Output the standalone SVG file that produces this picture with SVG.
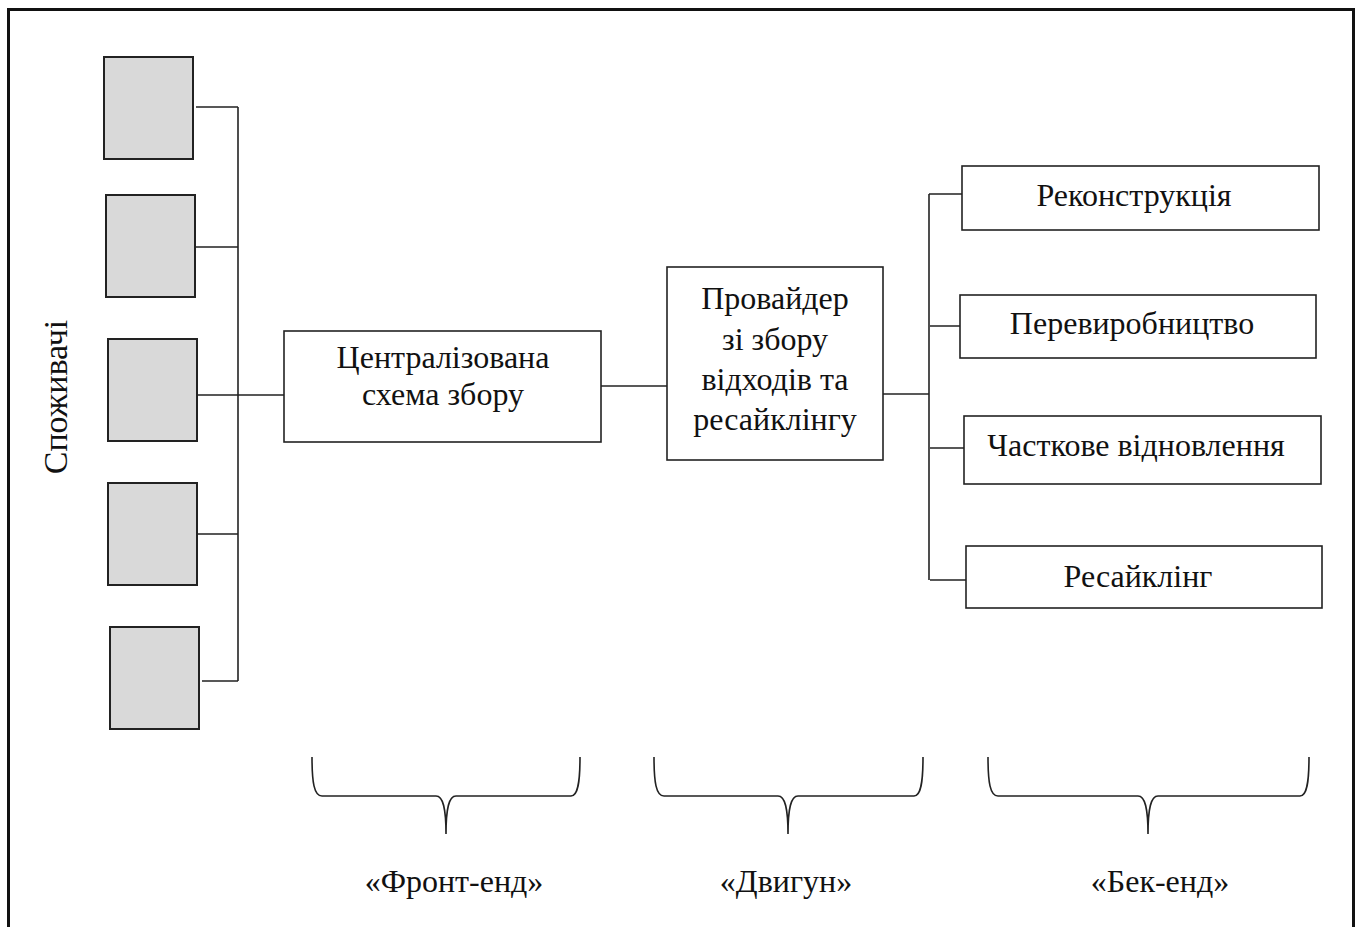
<svg xmlns="http://www.w3.org/2000/svg" width="1360" height="927" viewBox="0 0 1360 927">
<style>
.frame{fill:none;stroke:#111;stroke-width:3}
.cons{fill:#d9d9d9;stroke:#222;stroke-width:2}
.box{fill:#fff;stroke:#222;stroke-width:1.6}
.ln{fill:none;stroke:#222;stroke-width:1.6}
.br{fill:none;stroke:#222;stroke-width:1.6}
text{font-family:"Liberation Serif","Times New Roman",serif;font-size:32px;fill:#111;text-anchor:middle}
</style>
<rect x="0" y="0" width="1360" height="927" fill="#fff"/>
<rect class="frame" x="8.5" y="9.5" width="1345" height="930"/>
<g id="consumers-label"><text transform="translate(67,397) rotate(-90)" style="font-size:34px">Споживачі</text></g>
<g id="consumer1"><rect class="cons" x="104" y="57" width="89" height="102"/></g>
<g id="consumer2"><rect class="cons" x="106" y="195" width="89" height="102"/></g>
<g id="consumer3"><rect class="cons" x="108" y="339" width="89" height="102"/></g>
<g id="consumer4"><rect class="cons" x="108" y="483" width="89" height="102"/></g>
<g id="consumer5"><rect class="cons" x="110" y="627" width="89" height="102"/></g>
<g id="central"><rect class="box" x="284" y="331" width="317" height="111"/>
<text x="443" y="368">Централізована</text><text x="443" y="405">схема збору</text></g>
<g id="provider"><rect class="box" x="667" y="267" width="216" height="193"/>
<text x="775" y="309">Провайдер</text><text x="775" y="350">зі збору</text><text x="775" y="390">відходів та</text><text x="775" y="430">ресайклінгу</text></g>
<g id="reconstruction"><rect class="box" x="962" y="166" width="357" height="64"/><text x="1134" y="206">Реконструкція</text></g>
<g id="remanufacturing"><rect class="box" x="960" y="295" width="356" height="63"/><text x="1132" y="334">Перевиробництво</text></g>
<g id="partial"><rect class="box" x="964" y="416" width="357" height="68"/><text x="1136" y="456">Часткове відновлення</text></g>
<g id="recycling"><rect class="box" x="966" y="546" width="356" height="62"/><text x="1138" y="587">Ресайклінг</text></g>
<g id="connectors">
<path class="ln" d="M238,107 V681"/>
<path class="ln" d="M196,107 H238 M195,247 H238 M197,395 H284 M197,534 H238 M202,681 H238"/>
<path class="ln" d="M601,386 H667"/>
<path class="ln" d="M883,394 H929"/>
<path class="ln" d="M929,194 V580"/>
<path class="ln" d="M929,194 H962 M930,326 H960 M930,448 H964 M930,580 H966"/>
</g>
<g id="brace-front"><path class="br" d="M312,757 C312,782 314,796 322,796 L436,796 C443,796 446,808 446,834 C446,808 449,796 456,796 L571,796 C578,796 580,782 580,757"/><text x="454" y="892">«Фронт-енд»</text></g>
<g id="brace-engine"><path class="br" d="M654,757 C654,782 656,796 664,796 L778,796 C785,796 788,808 788,834 C788,808 791,796 798,796 L914,796 C921,796 923,782 923,757"/><text x="786" y="892">«Двигун»</text></g>
<g id="brace-back"><path class="br" d="M988,757 C988,782 990,796 998,796 L1138,796 C1145,796 1148,808 1148,834 C1148,808 1151,796 1158,796 L1300,796 C1307,796 1309,782 1309,757"/><text x="1160" y="892">«Бек-енд»</text></g>
</svg>
